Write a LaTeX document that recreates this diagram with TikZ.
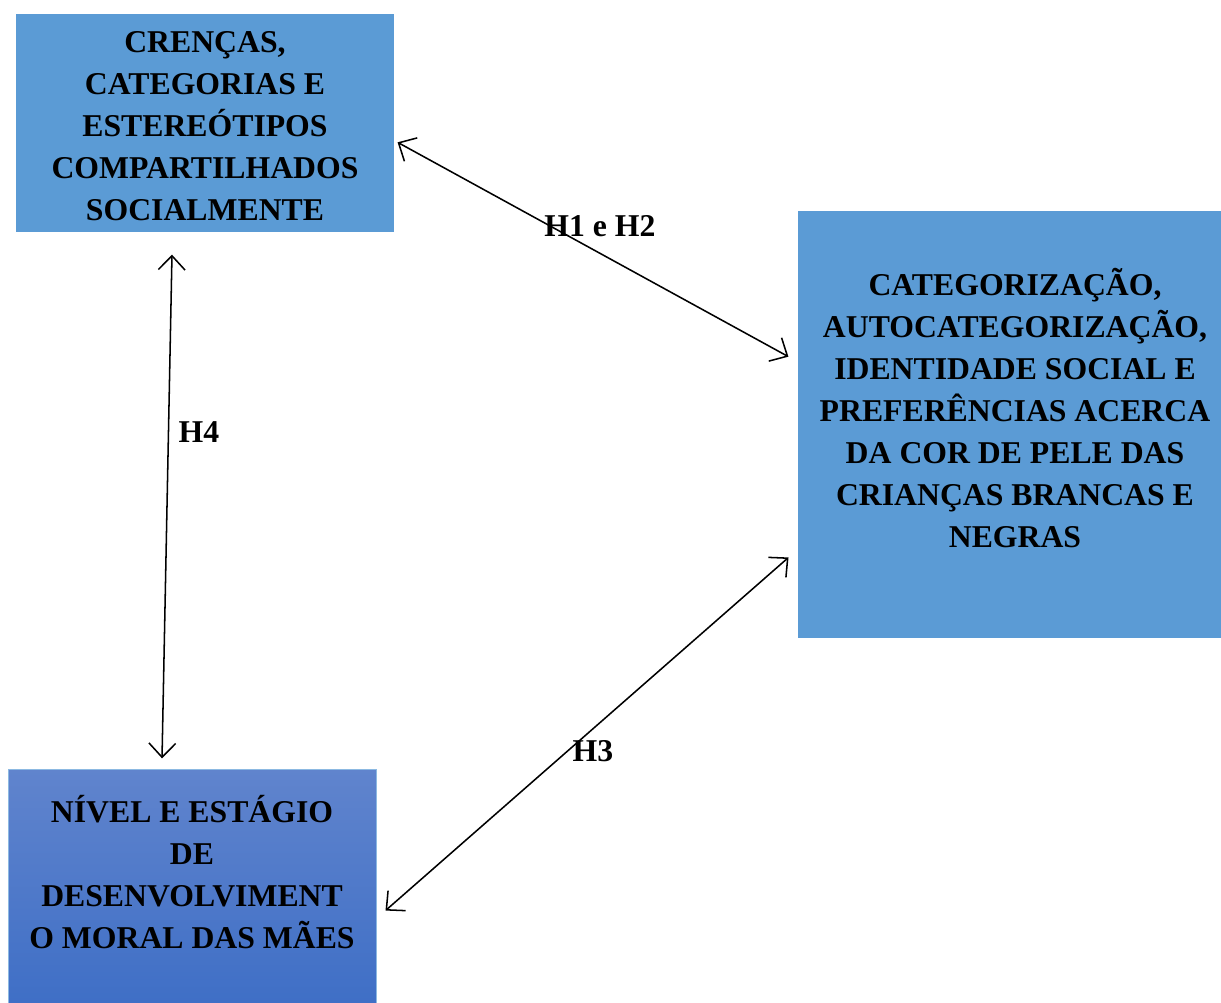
\documentclass[tikz,border=0pt]{standalone}
\usepackage{fontspec}
\setmainfont{Liberation Serif}
\usetikzlibrary{arrows.meta}
\definecolor{boxblue}{HTML}{5B9BD5}
\definecolor{gradtop}{HTML}{6084CD}
\definecolor{gradbot}{HTML}{3F6FC6}
\tikzset{
  boxtext/.style={align=center, font=\bfseries\fontsize{23.8pt}{31.6pt}\selectfont, inner sep=0pt},
  lbl/.style={font=\bfseries\fontsize{23.8pt}{28pt}\selectfont, inner sep=0pt},
  dbl/.style={{Straight Barb[length=10.5pt,width=20pt,line width=1.15pt]}-{Straight Barb[length=10.5pt,width=20pt,line width=1.15pt]}, line width=1.15pt, shorten <=0.5pt, shorten >=0.5pt}
}
\begin{document}
\begin{tikzpicture}[x=0.75pt,y=-0.75pt]
\useasboundingbox (0,0) rectangle (1221,1003);
\fill[white] (0,0) rectangle (1221,1003);
% boxes
\fill[boxblue] (16,14) rectangle (394,232);
\fill[boxblue] (798,211) rectangle (1221,638);
\shade[top color=gradtop, bottom color=gradbot] (8,769) rectangle (376,1003);
\draw[boxblue!70!white, line width=0.6pt] (8,1003) -- (8,769) -- (376,769) -- (376,1003);
% texts
\node[boxtext] (crencas) at (205,126) {CRENÇAS,\\CATEGORIAS E\\ESTEREÓTIPOS\\COMPARTILHADOS\\SOCIALMENTE};
\node[boxtext] (categ) at (1015,408) {CATEGORIZAÇÃO,\\AUTOCATEGORIZAÇÃO,\\IDENTIDADE SOCIAL E\\PREFERÊNCIAS ACERCA\\DA COR DE PELE DAS\\CRIANÇAS BRANCAS E\\NEGRAS};
\node[boxtext] (nivel) at (192,872) {NÍVEL E ESTÁGIO\\DE\\DESENVOLVIMENT\\O MORAL DAS MÃES};
% connector endpoints
\coordinate (a1) at (397,142);
\coordinate (b1) at (789,357);
\coordinate (a4) at (172,254);
\coordinate (b4) at (162,759);
\coordinate (a3) at (789,557);
\coordinate (b3) at (385,911);
\draw[dbl] (a1) -- (b1);
\draw[dbl] (a4) -- (b4);
\draw[dbl] (a3) -- (b3);
% labels
\node[lbl] (h12) at (600,226) {H1 e H2};
\node[lbl] (h4) at (199,432) {H4};
\node[lbl] (h3) at (593,751) {H3};
\end{tikzpicture}
\end{document}
